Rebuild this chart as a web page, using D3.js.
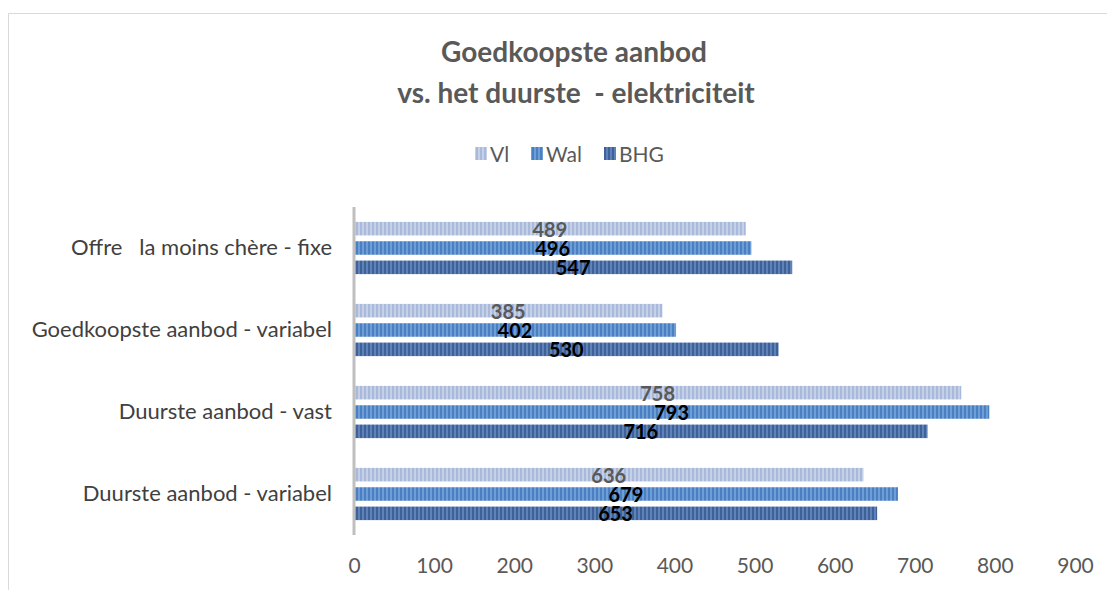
<!DOCTYPE html>
<html>
<head>
<meta charset="utf-8">
<script src="https://cdn.jsdelivr.net/npm/d3@7"></script>
<style>
  body { margin: 0; background: #fff; }
  svg text { font-family: Lato, "Open Sans", sans-serif; white-space: pre; }
</style>
</head>
<body>
<svg id="chart" width="1107" height="590"></svg>
<script>
const categories = ['Offre   la moins chère - fixe', 'Goedkoopste aanbod - variabel', 'Duurste aanbod - vast', 'Duurste aanbod - variabel'];
const series = ['Vl', 'Wal', 'BHG'];
const vlValues = [489, 385, 758, 636];
const walValues = [496, 402, 793, 679];
const bhgValues = [547, 530, 716, 653];
const xTicks = [0, 100, 200, 300, 400, 500, 600, 700, 800, 900];

// colours: base + stripe for each series
let colorArr = {
  Vl:  { base: '#c6d1e8', stripe: '#a8b9dc', label: '#595959' },
  Wal: { base: '#6f9dd6', stripe: '#4a7fc2', label: '#000000' },
  BHG: { base: '#5f82b8', stripe: '#3e6298', label: '#000000' }
};

let valuesBySeries = { Vl: vlValues, Wal: walValues, BHG: bhgValues };
let rows = [];
categories.forEach((c, i) => {
  series.forEach(s => rows.push({ cat: c, s: s, v: valuesBySeries[s][i] }));
});

const svg = d3.select('#chart');

// chart border (runs off the right and bottom)
svg.append('path')
  .attr('d', 'M8.5,600 L8.5,13.5 L1120,13.5')
  .attr('fill', 'none')
  .attr('stroke', '#d9d9d9')
  .attr('stroke-width', 1);

// stripe patterns
let defs = svg.append('defs');
series.forEach(s => {
  let p = defs.append('pattern')
    .attr('id', 'pat-' + s)
    .attr('patternUnits', 'userSpaceOnUse')
    .attr('width', 4).attr('height', 4);
  p.append('rect').attr('width', 4).attr('height', 4).attr('fill', colorArr[s].base);
  p.append('rect').attr('width', 2).attr('height', 4).attr('fill', colorArr[s].stripe);
});

const x = d3.scaleLinear().domain([0, 900]).range([354, 1075]);
const y0 = d3.scaleBand().domain(categories).range([207, 535]).padding(0);
const y1 = d3.scaleBand().domain(series).range([0, y0.bandwidth()]).paddingInner(0.3).paddingOuter(0.77);

// title
let title = svg.append('text')
  .attr('text-anchor', 'middle')
  .attr('fill', '#595959')
  .style('font-size', '28px')
  .style('font-weight', 'bold');
title.append('tspan').attr('x', 574).attr('y', 62).text('Goedkoopste aanbod');
title.append('tspan').attr('x', 576).attr('y', 103).text('vs. het duurste  - elektriciteit');

// legend
let legendX = [475, 531, 604];
series.forEach((s, i) => {
  svg.append('rect')
    .attr('x', legendX[i]).attr('y', 147)
    .attr('width', 12).attr('height', 13)
    .attr('fill', 'url(#pat-' + s + ')');
  svg.append('text')
    .attr('x', legendX[i] + 15).attr('y', 162)
    .attr('fill', '#595959')
    .style('font-size', '21px')
    .text(s);
});

// bars
svg.append('g').selectAll('rect')
  .data(rows)
  .join('rect')
  .attr('x', x(0))
  .attr('y', d => y0(d.cat) + y1(d.s))
  .attr('width', d => x(d.v) - x(0))
  .attr('height', y1.bandwidth())
  .attr('fill', d => 'url(#pat-' + d.s + ')');

// data labels
svg.append('g').selectAll('text')
  .data(rows)
  .join('text')
  .attr('x', d => (x(0) + x(d.v)) / 2)
  .attr('y', d => y0(d.cat) + y1(d.s) + y1.bandwidth() / 2 + 8)
  .attr('text-anchor', 'middle')
  .attr('fill', d => colorArr[d.s].label)
  .style('font-size', '20px')
  .style('font-weight', 'bold')
  .text(d => d.v);

// category axis
svg.append('line')
  .attr('x1', x(0)).attr('x2', x(0))
  .attr('y1', 207).attr('y2', 535)
  .attr('stroke', '#bfbfbf')
  .attr('stroke-width', 3);

svg.append('g').selectAll('text')
  .data(categories)
  .join('text')
  .attr('x', 332)
  .attr('y', d => y0(d) + y0.bandwidth() / 2 + 7)
  .attr('text-anchor', 'end')
  .attr('fill', '#404040')
  .style('font-size', '22px')
  .text(d => d);

// value axis
let xAxis = svg.append('g')
  .attr('transform', 'translate(0,548)')
  .call(d3.axisBottom(x).tickValues(xTicks).tickSize(0).tickPadding(0));
xAxis.select('.domain').remove();
xAxis.selectAll('text')
  .attr('fill', '#595959')
  .attr('dy', '0')
  .attr('y', 25)
  .style('font-size', '21px')
  .style('font-family', 'Lato, "Open Sans", sans-serif');
</script>
</body>
</html>
